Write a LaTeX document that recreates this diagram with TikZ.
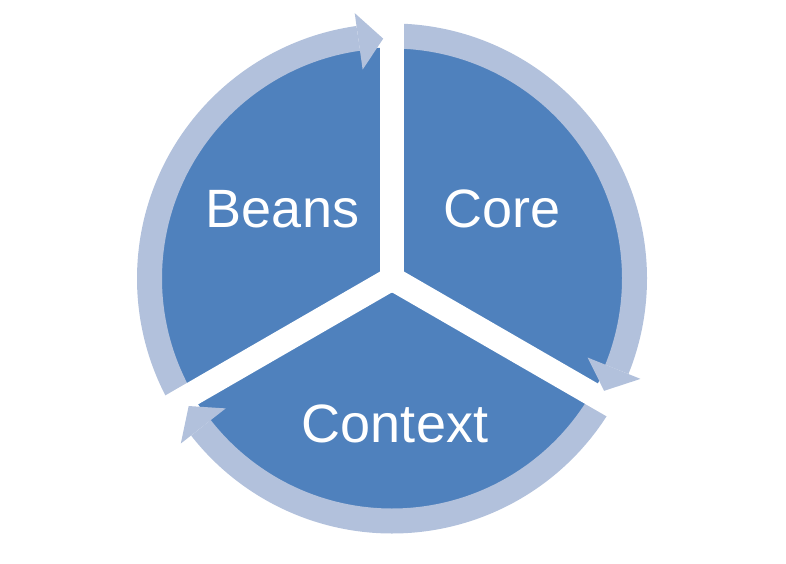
\documentclass[tikz,border=0pt]{standalone}
\usepackage{fontspec}
\setmainfont{Liberation Sans}
\usetikzlibrary{calc}
\definecolor{darkblue}{HTML}{4F81BD}
\definecolor{lightblue}{HTML}{B2C1DC}
\tikzset{
  ringarc/.style={draw=lightblue, line width=25pt, line cap=butt},
  arrowtip/.style={fill=lightblue},
  gapband/.style={draw=white, line width=24pt, line cap=butt},
  label/.style={text=white, font=\fontsize{54}{60}\selectfont, anchor=base, inner sep=0pt}
}
\begin{document}
\begin{tikzpicture}[x=1pt,y=1pt]
\useasboundingbox (0,0) rectangle (786,563);
\coordinate (C) at (392,284.5);
% sectors (disk)
\fill[darkblue] (C) circle (231);
% ring arcs
\draw[ringarc] (C) ++(209:242.5) arc[start angle=209, end angle=98, radius=242.5];
\draw[ringarc] (C) ++(89:242.5) arc[start angle=89, end angle=-22, radius=242.5];
\draw[ringarc] (C) ++(-31:242.5) arc[start angle=-31, end angle=-142, radius=242.5];
% gaps
\foreach \a in {90,-30,210} {
  \draw[gapband] (C) -- ++(\a:262);
  \fill[white] (C) circle (13.86);
}
% arrowheads
\foreach \g in {90,-30,210} {
  \fill[arrowtip] ($(C)+(\g+2.1:240)$) -- ($(C)+(\g+8:211)$) -- ($(C)+(\g+8:268)$) -- cycle;
}
% labels
\node[label] (beans) at (282.5,336) {Beans};
\node[label] (core) at (502,336) {Core};
\node[label] (context) at (395,121) {Context};
\end{tikzpicture}
\end{document}
